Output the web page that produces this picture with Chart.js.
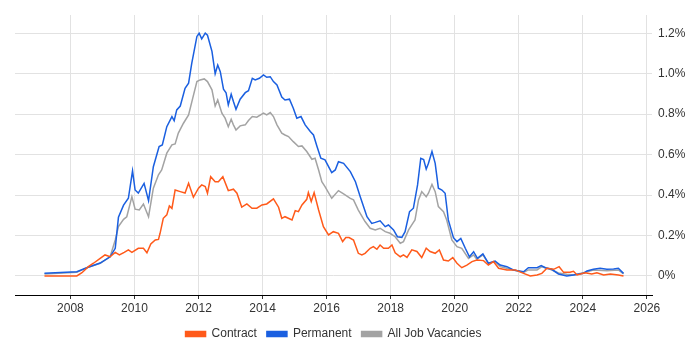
<!DOCTYPE html>
<html>
<head>
<meta charset="utf-8">
<script src="https://cdn.jsdelivr.net/npm/chart.js@4/dist/chart.umd.min.js"></script>
<style>
  html, body { margin: 0; padding: 0; background: #fff; }
  #wrap { width: 700px; height: 350px; }
</style>
</head>
<body>
<div id="wrap"><canvas id="chart" width="700" height="350"></canvas></div>
<script>
// tick labels
const yearTicks = [2008, 2010, 2012, 2014, 2016, 2018, 2020, 2022, 2024, 2026];
const pctTicks = [0, 0.2, 0.4, 0.6, 0.8, 1.0, 1.2];

// Contract
const contractYears = [2007.19, 2008.2, 2008.36, 2008.56, 2008.72, 2008.93, 2009.08, 2009.24, 2009.4, 2009.53,
  2009.68, 2009.81, 2009.92, 2010.12, 2010.28, 2010.39, 2010.51, 2010.65, 2010.75, 2010.8,
  2010.9, 2011.01, 2011.09, 2011.17, 2011.27, 2011.43, 2011.58, 2011.69, 2011.84, 2012.0,
  2012.1, 2012.21, 2012.28, 2012.38, 2012.52, 2012.62, 2012.76, 2012.93, 2013.09, 2013.2,
  2013.35, 2013.51, 2013.67, 2013.82, 2013.98, 2014.13, 2014.34, 2014.5, 2014.6, 2014.7,
  2014.92, 2015.02, 2015.12, 2015.23, 2015.38, 2015.43, 2015.52, 2015.61, 2015.75, 2015.9,
  2016.06, 2016.21, 2016.37, 2016.5, 2016.6, 2016.7, 2016.84, 2016.99, 2017.1, 2017.2,
  2017.36, 2017.46, 2017.57, 2017.67, 2017.78, 2017.93, 2018.04, 2018.14, 2018.3, 2018.4,
  2018.51, 2018.66, 2018.82, 2018.97, 2019.11, 2019.23, 2019.39, 2019.52, 2019.65, 2019.8,
  2019.94, 2020.07, 2020.22, 2020.38, 2020.54, 2020.69, 2020.9, 2021.05, 2021.21, 2021.37,
  2021.63, 2021.89, 2022.15, 2022.36, 2022.57, 2022.72, 2022.88, 2023.09, 2023.26, 2023.4,
  2023.6, 2023.71, 2023.82, 2024.07, 2024.28, 2024.44, 2024.65, 2024.86, 2025.11, 2025.27];
const contractValues = [0, 0, 0.016, 0.046, 0.063, 0.087, 0.104, 0.095, 0.117, 0.104,
  0.117, 0.129, 0.117, 0.137, 0.137, 0.115, 0.158, 0.178, 0.181, 0.211,
  0.285, 0.302, 0.346, 0.334, 0.425, 0.417, 0.41, 0.458, 0.389, 0.434,
  0.45, 0.442, 0.409, 0.491, 0.466, 0.466, 0.491, 0.422, 0.429, 0.409,
  0.34, 0.356, 0.335, 0.335, 0.351, 0.356, 0.381, 0.34, 0.285, 0.293,
  0.277, 0.323, 0.318, 0.351, 0.379, 0.412, 0.368, 0.412, 0.326, 0.244,
  0.203, 0.219, 0.211, 0.17, 0.19, 0.19, 0.178, 0.112, 0.104, 0.112,
  0.137, 0.145, 0.132, 0.153, 0.137, 0.137, 0.153, 0.115, 0.095, 0.104,
  0.092, 0.129, 0.121, 0.091, 0.137, 0.121, 0.112, 0.129, 0.079, 0.074,
  0.091, 0.063, 0.041, 0.054, 0.071, 0.079, 0.076, 0.054, 0.071, 0.038,
  0.03, 0.03, 0.013, 0, 0.005, 0.013, 0.038, 0.033, 0.046, 0.018,
  0.018, 0.023, 0.005, 0.016, 0.01, 0.016, 0.005, 0.01, 0.005, 0];

// Permanent
const permanentYears = [2007.19, 2008.2, 2008.51, 2008.93, 2009.24, 2009.4, 2009.5, 2009.66, 2009.81, 2009.94,
  2010.02, 2010.12, 2010.3, 2010.44, 2010.59, 2010.77, 2010.87, 2011.01, 2011.17, 2011.24,
  2011.32, 2011.43, 2011.58, 2011.69, 2011.79, 2011.95, 2012.02, 2012.1, 2012.21, 2012.28,
  2012.42, 2012.52, 2012.6, 2012.68, 2012.78, 2012.86, 2012.93, 2013.02, 2013.09, 2013.17,
  2013.3, 2013.46, 2013.56, 2013.68, 2013.77, 2013.9, 2014.03, 2014.13, 2014.24, 2014.34,
  2014.45, 2014.6, 2014.7, 2014.84, 2014.96, 2015.07, 2015.2, 2015.33, 2015.49, 2015.59,
  2015.7, 2015.82, 2015.95, 2016.16, 2016.27, 2016.37, 2016.53, 2016.74, 2016.9, 2017.05,
  2017.26, 2017.41, 2017.52, 2017.67, 2017.83, 2017.93, 2018.09, 2018.21, 2018.35, 2018.45,
  2018.59, 2018.71, 2018.84, 2018.94, 2019.03, 2019.11, 2019.18, 2019.29, 2019.39, 2019.49,
  2019.6, 2019.7, 2019.8, 2019.96, 2020.07, 2020.19, 2020.33, 2020.46, 2020.59, 2020.71,
  2020.88, 2021.05, 2021.26, 2021.42, 2021.63, 2021.83, 2022.15, 2022.3, 2022.57, 2022.7,
  2022.83, 2023.03, 2023.24, 2023.5, 2023.71, 2024.02, 2024.13, 2024.33, 2024.54, 2024.75,
  2024.96, 2025.11, 2025.27];
const permanentValues = [0.013, 0.021, 0.041, 0.064, 0.095, 0.137, 0.29, 0.35, 0.384, 0.52,
  0.425, 0.41, 0.458, 0.372, 0.54, 0.64, 0.648, 0.738, 0.788, 0.768,
  0.821, 0.84, 0.928, 0.953, 1.052, 1.184, 1.2, 1.172, 1.2, 1.19,
  1.11, 1.0, 1.043, 1.01, 0.923, 0.906, 0.846, 0.898, 0.862, 0.824,
  0.874, 0.906, 0.916, 0.977, 0.969, 0.977, 0.994, 0.982, 0.985, 0.961,
  0.944, 0.884, 0.87, 0.874, 0.829, 0.78, 0.788, 0.747, 0.714, 0.697,
  0.64, 0.582, 0.574, 0.511, 0.524, 0.565, 0.557, 0.516, 0.466, 0.392,
  0.293, 0.26, 0.265, 0.273, 0.244, 0.252, 0.228, 0.194, 0.191, 0.219,
  0.318, 0.335, 0.45, 0.582, 0.576, 0.528, 0.557, 0.615, 0.557, 0.434,
  0.425, 0.409, 0.277, 0.189, 0.17, 0.186, 0.137, 0.095, 0.12, 0.087,
  0.109, 0.063, 0.074, 0.054, 0.046, 0.03, 0.021, 0.041, 0.041, 0.051,
  0.041, 0.033, 0.01, 0, 0.005, 0.013, 0.025, 0.033, 0.038, 0.033,
  0.035, 0.038, 0.013];

// All Job Vacancies
const allYears = [2007.19, 2008.2, 2008.51, 2008.93, 2009.24, 2009.4, 2009.5, 2009.66, 2009.76, 2009.92,
  2010.02, 2010.15, 2010.28, 2010.44, 2010.59, 2010.75, 2010.85, 2011.01, 2011.17, 2011.27,
  2011.37, 2011.53, 2011.69, 2011.82, 2011.95, 2012.05, 2012.18, 2012.28, 2012.42, 2012.52,
  2012.6, 2012.73, 2012.83, 2012.93, 2013.02, 2013.09, 2013.17, 2013.3, 2013.46, 2013.56,
  2013.68, 2013.82, 2014.03, 2014.13, 2014.24, 2014.34, 2014.45, 2014.6, 2014.7, 2014.81,
  2014.96, 2015.12, 2015.23, 2015.38, 2015.54, 2015.64, 2015.75, 2015.85, 2015.95, 2016.16,
  2016.37, 2016.53, 2016.74, 2016.84, 2016.99, 2017.2, 2017.36, 2017.52, 2017.67, 2017.83,
  2017.98, 2018.14, 2018.3, 2018.4, 2018.56, 2018.69, 2018.76, 2018.87, 2018.97, 2019.11,
  2019.18, 2019.29, 2019.39, 2019.49, 2019.65, 2019.75, 2019.91, 2020.07, 2020.22, 2020.43,
  2020.59, 2020.69, 2020.88, 2021.05, 2021.26, 2021.42, 2021.83, 2022.15, 2022.3, 2022.57,
  2022.72, 2022.98, 2023.24, 2023.5, 2023.71, 2024.02, 2024.33, 2024.75, 2025.11, 2025.27];
const allValues = [0.01, 0.018, 0.041, 0.063, 0.095, 0.178, 0.244, 0.28, 0.293, 0.392,
  0.33, 0.326, 0.356, 0.293, 0.434, 0.5, 0.524, 0.607, 0.648, 0.653,
  0.706, 0.755, 0.796, 0.879, 0.961, 0.969, 0.974, 0.961, 0.92, 0.84,
  0.87, 0.805, 0.78, 0.738, 0.775, 0.747, 0.722, 0.742, 0.747, 0.768,
  0.788, 0.785, 0.805, 0.796, 0.808, 0.788, 0.747, 0.706, 0.697, 0.689,
  0.664, 0.64, 0.643, 0.615, 0.577, 0.582, 0.524, 0.466, 0.442, 0.384,
  0.422, 0.406, 0.384, 0.376, 0.326, 0.269, 0.236, 0.228, 0.236, 0.219,
  0.211, 0.194, 0.162, 0.17, 0.228, 0.26, 0.277, 0.376, 0.417, 0.392,
  0.409, 0.453, 0.417, 0.343, 0.318, 0.277, 0.178, 0.145, 0.137, 0.087,
  0.104, 0.083, 0.104, 0.063, 0.071, 0.046, 0.03, 0.018, 0.03, 0.03,
  0.046, 0.033, 0.015, 0.008, 0.005, 0.016, 0.03, 0.026, 0.03, 0.01];

const toPoints = (xs, ys) => xs.map((x, i) => ({ x: x, y: ys[i] }));

const lineSet = (label, xs, ys, color) => ({
  label: label,
  data: toPoints(xs, ys),
  borderColor: color,
  backgroundColor: color,
  borderWidth: 1.5,
  pointRadius: 0,
  tension: 0,
  fill: false
});

Chart.defaults.font.family = "'Liberation Sans', Arial, sans-serif";
Chart.defaults.font.size = 12;
Chart.defaults.color = '#333';

new Chart(document.getElementById('chart'), {
  type: 'line',
  data: {
    datasets: [
      lineSet('Contract', contractYears, contractValues, '#ff5a1a'),
      lineSet('Permanent', permanentYears, permanentValues, '#1a5fe0'),
      lineSet('All Job Vacancies', allYears, allValues, '#a3a3a3')
    ]
  },
  options: {
    responsive: false,
    animation: false,
    layout: { padding: { left: 15, top: 15, right: 0, bottom: 0 } },
    plugins: {
      tooltip: { enabled: false },
      legend: {
        position: 'bottom',
        fullSize: false,
        labels: { boxWidth: 20, boxHeight: 5, padding: 10, color: '#333' }
      }
    },
    scales: {
      x: {
        type: 'linear',
        min: 2006.27,
        max: 2026.16,
        afterBuildTicks: (scale) => { scale.ticks = yearTicks.map(v => ({ value: v })); },
        afterFit: (scale) => { scale.height = 23; },
        ticks: { padding: 2, maxRotation: 0, callback: (v) => String(v) },
        grid: { color: '#e2e2e2', tickColor: '#333', tickLength: 4 },
        border: { display: true, color: '#000', width: 1 }
      },
      y: {
        position: 'right',
        min: -0.094,
        max: 1.29,
        afterBuildTicks: (scale) => { scale.ticks = pctTicks.map(v => ({ value: v })); },
        afterFit: (scale) => { scale.width = 48; },
        ticks: {
          padding: 6,
          callback: (v) => (v === 0 ? '0%' : v.toFixed(1) + '%')
        },
        grid: { color: '#e2e2e2', drawTicks: false },
        border: { display: false }
      }
    }
  }
});
</script>
</body>
</html>
